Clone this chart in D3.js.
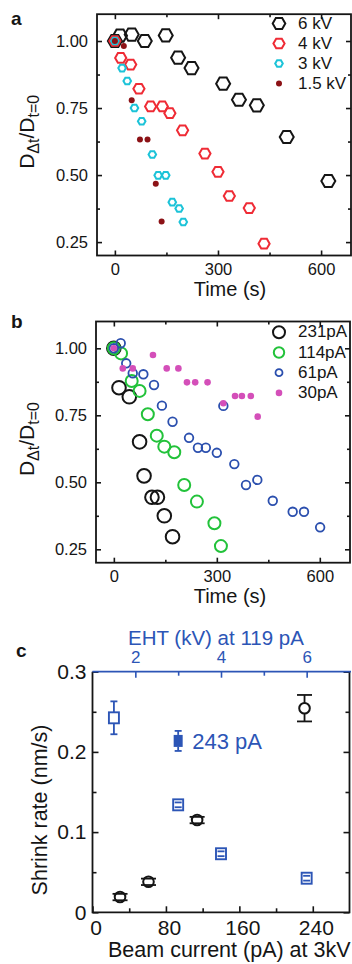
<!DOCTYPE html>
<html>
<head>
<meta charset="utf-8">
<script src="https://cdn.jsdelivr.net/npm/d3@7"></script>
<style>
  body { margin: 0; background: #fff; }
  svg { display: block; }
</style>
</head>
<body>
<script>
// ---- panel a: D ratio vs time, one series per EHT ----
const a6kvT = [0, 15, 49, 87, 148, 184, 223, 315, 361, 413, 500, 621];
const a6kvD = [1.00, 1.02, 1.024, 1.00, 1.021, 0.938, 0.899, 0.841, 0.781, 0.760, 0.642, 0.478];
const a4kvT = [0, 17, 46, 70, 104, 138, 160, 197, 262, 300, 333, 391, 434];
const a4kvD = [1.00, 0.937, 0.912, 0.822, 0.756, 0.756, 0.731, 0.667, 0.580, 0.512, 0.422, 0.377, 0.244];
const a3kvT = [0, 21, 36, 57, 78, 109, 126, 148, 167, 187, 199];
const a3kvD = [1.00, 0.899, 0.851, 0.750, 0.701, 0.577, 0.499, 0.499, 0.399, 0.375, 0.325];
const a15kvT = [0, 26, 49, 73, 95, 119, 136];
const a15kvD = [1.00, 0.981, 0.779, 0.633, 0.633, 0.468, 0.327];
const aLegend = ['6 kV', '4 kV', '3 kV', '1.5 kV'];

// ---- panel b: D ratio vs time, one series per beam current ----
const b231T = [0, 15, 45, 75, 88, 111, 127, 147, 171];
const b231D = [1.00, 0.853, 0.819, 0.651, 0.524, 0.444, 0.444, 0.375, 0.297];
const b114T = [0, 21, 52, 75, 99, 125, 147, 176, 205, 242, 293, 312];
const b114D = [1.00, 0.981, 0.878, 0.841, 0.754, 0.674, 0.633, 0.612, 0.490, 0.428, 0.347, 0.262];
const b61T = [0, 20, 36, 55, 86, 117, 140, 171, 219, 245, 268, 300, 319, 351, 385, 418, 463, 521, 554, 601];
const b61D = [1.00, 1.019, 0.944, 0.907, 0.903, 0.863, 0.786, 0.726, 0.666, 0.629, 0.629, 0.610, 0.785, 0.568, 0.490, 0.509, 0.431, 0.390, 0.390, 0.332];
const b30T = [0, 26, 55, 114, 154, 188, 213, 237, 273, 319, 353, 373, 399, 419];
const b30D = [1.00, 0.925, 0.925, 0.975, 0.925, 0.925, 0.873, 0.873, 0.873, 0.795, 0.822, 0.822, 0.822, 0.745];
const bLegend = ['231pA', '114pA', '61pA', '30pA'];

// ---- panel c: shrink rate ----
const ehtKV = [1.5, 3, 4, 6];
const ehtRate = [0.2425, 0.134, 0.073, 0.0425];
const ehtErr = [0.0205, 0.003, 0.003, 0.003];
const hiKV = [3];
const hiRate = [0.2137];
const hiErr = [0.0125];
const beamPA = [30, 61, 114, 231];
const beamRate = [0.019, 0.038, 0.115, 0.2545];
const beamErr = [0.004, 0.004, 0.004, 0.0165];

const zip = (xs, ys) => xs.map((v, i) => [v, ys[i]]);

const svg = d3.select('body').append('svg')
  .attr('width', 352).attr('height', 964)
  .style('font-family', '"Liberation Sans", Arial, sans-serif');

const BLACK = '#151515', RED = '#ef2b35', CYAN = '#1cc3d8', DARKRED = '#8c1216',
  GREEN = '#22c23a', BLUE = '#2b4fae', PINK = '#d44fb9', CBLUE = '#2c55b6';

function hexPath(r) {
  const pts = d3.range(6).map(i => [r * Math.cos(i * Math.PI / 3), r * Math.sin(i * Math.PI / 3)]);
  return d3.line().curve(d3.curveLinearClosed)(pts);
}

// inward ticks, optional labels
function ticks(axis, tr, vals, size, fmt, pad, fs, color) {
  const g = svg.append('g').attr('transform', tr)
    .call(axis.tickValues(vals).tickSizeInner(-size).tickSizeOuter(0)
      .tickPadding(pad || 0).tickFormat(fmt || (() => '')));
  g.select('.domain').remove();
  g.attr('font-family', null).attr('font-size', fs || null);
  g.selectAll('line').attr('stroke', color || BLACK).attr('stroke-width', 1.6);
  g.selectAll('text').attr('fill', color || BLACK);
  return g;
}

function box(x, y) {
  const [xl, xr] = x.range(), [yb, yt] = y.range();
  svg.append('rect').attr('x', xl).attr('y', yt).attr('width', xr - xl).attr('height', yb - yt)
    .attr('fill', 'none').attr('stroke', BLACK).attr('stroke-width', 1.8);
}

function timeFrame(x, y) {
  const [xl, xr] = x.range(), [yb, yt] = y.range();
  const f2 = d3.format('.2f');
  ticks(d3.axisBottom(x), `translate(0,${yb})`, [0, 300, 600], 5, d3.format('d'), 8, 16.5);
  ticks(d3.axisBottom(x), `translate(0,${yb})`, [150, 450], 3);
  ticks(d3.axisTop(x), `translate(0,${yt})`, [0, 300, 600], 5);
  ticks(d3.axisTop(x), `translate(0,${yt})`, [150, 450], 3);
  ticks(d3.axisLeft(y), `translate(${xl},0)`, [0.25, 0.5, 0.75, 1.0], 5, f2, 9, 16.5);
  ticks(d3.axisLeft(y), `translate(${xl},0)`, [0.375, 0.625, 0.875], 3);
  ticks(d3.axisRight(y), `translate(${xr},0)`, [0.25, 0.5, 0.75, 1.0], 5);
  ticks(d3.axisRight(y), `translate(${xr},0)`, [0.375, 0.625, 0.875], 3);
  box(x, y);
  svg.append('text').attr('x', 230).attr('y', yb + 40).attr('text-anchor', 'middle')
    .attr('font-size', 20).attr('fill', BLACK).text('Time (s)');
  const t = svg.append('text')
    .attr('transform', `translate(34,${(yb + yt) / 2 - 3}) rotate(-90)`)
    .attr('text-anchor', 'middle').attr('font-size', 21).attr('fill', BLACK);
  t.append('tspan').text('D');
  t.append('tspan').attr('font-size', 16).attr('dy', 5).text('\u0394t');
  t.append('tspan').attr('dy', -5).text('/D');
  t.append('tspan').attr('font-size', 16).attr('dy', 5).text('t=0');
}

function panelLabel(txt, x, y) {
  svg.append('text').attr('x', x).attr('y', y).attr('font-size', 19).attr('font-weight', 'bold')
    .attr('fill', BLACK).text(txt);
}

// ================= panel a =================
const xA = d3.scaleLinear().domain([-52, 687]).range([97, 351]);
const yA = d3.scaleLinear().domain([0.2, 1.1]).range([255.5, 14.2]);
timeFrame(xA, yA);
panelLabel('a', 11, 25);

const aSeries = [
  {pts: zip(a6kvT, a6kvD), shape: 'hex', r: 7, color: BLACK},
  {pts: zip(a4kvT, a4kvD), shape: 'hex', r: 5.6, color: RED},
  {pts: zip(a3kvT, a3kvD), shape: 'hex', r: 3.8, color: CYAN},
  {pts: zip(a15kvT, a15kvD), shape: 'dot', r: 3, color: DARKRED}
];

function mark(sel, s) {
  if (s.shape === 'hex') {
    sel.append('path').attr('d', hexPath(s.r)).attr('fill', 'none')
      .attr('stroke', s.color).attr('stroke-width', 2);
  } else if (s.shape === 'circle') {
    sel.append('circle').attr('r', s.r).attr('fill', 'none')
      .attr('stroke', s.color).attr('stroke-width', s.sw || 2);
  } else {
    sel.append('circle').attr('r', s.r).attr('fill', s.color);
  }
}

function drawSeries(series, x, y) {
  series.forEach(s => {
    svg.append('g').selectAll('g').data(s.pts).enter().append('g')
      .attr('transform', d => `translate(${x(d[0])},${y(d[1])})`)
      .each(function () { mark(d3.select(this), s); });
  });
}

function legend(series, labels, lx, ly, step) {
  series.forEach((s, i) => {
    const g = svg.append('g').attr('transform', `translate(${lx},${ly + i * step})`);
    mark(g, s);
    svg.append('text').attr('x', lx + 19).attr('y', ly + i * step + 5)
      .attr('font-size', 17).attr('fill', BLACK).text(labels[i]);
  });
}

drawSeries(aSeries, xA, yA);
legend(aSeries.map((s, i) => i === 0 ? Object.assign({}, s, {r: 6.3}) : s), aLegend, 279, 23.5, 20);

// ================= panel b =================
const xB = d3.scaleLinear().domain([-52, 688]).range([96, 350]);
const yB = d3.scaleLinear().domain([0.2, 1.1]).range([562.7, 321.5]);
timeFrame(xB, yB);
panelLabel('b', 11, 328);

const bSeries = [
  {pts: zip(b231T, b231D), shape: 'circle', r: 6.8, color: BLACK},
  {pts: zip(b114T, b114D), shape: 'circle', r: 6, color: GREEN},
  {pts: zip(b61T, b61D), shape: 'circle', r: 4.3, color: BLUE, sw: 1.8},
  {pts: zip(b30T, b30D), shape: 'dot', r: 3.3, color: PINK}
];
drawSeries(bSeries, xB, yB);
legend(bSeries.map(s => s.shape === 'dot' ? s : Object.assign({}, s, {r: s.r - 0.8})), bLegend, 279, 332.3, 20.2);

// ================= panel c =================
const xC = d3.scaleLinear().domain([0, 280]).range([92.5, 349.5]);
const xTop = d3.scaleLinear().domain([1, 7]).range([92.5, 349.5]);
const yC = d3.scaleLinear().domain([0, 0.3]).range([912.3, 671.7]);
panelLabel('c', 16, 657);

ticks(d3.axisBottom(xC), 'translate(0,912.3)', [0, 80, 160, 240], 6, d3.format('d'), 8, 21)
  .selectAll('text').attr('dx', 3);
ticks(d3.axisBottom(xC), 'translate(0,912.3)', [40, 120, 200], 4);
ticks(d3.axisLeft(yC), 'translate(92.5,0)', [0, 0.1, 0.2, 0.3], 6, d3.format(''), 6, 21);
ticks(d3.axisLeft(yC), 'translate(92.5,0)', [0.05, 0.15, 0.25], 4);
ticks(d3.axisRight(yC), 'translate(349.5,0)', [0, 0.1, 0.2, 0.3], 6);
ticks(d3.axisRight(yC), 'translate(349.5,0)', [0.05, 0.15, 0.25], 4);
svg.append('path').attr('d', 'M92.5,671.7V912.3H349.5V671.7')
  .attr('fill', 'none').attr('stroke', BLACK).attr('stroke-width', 1.8);
ticks(d3.axisTop(xTop), 'translate(0,671.7)', [2, 4, 6], 6, d3.format('d'), 9, 17, CBLUE);
ticks(d3.axisTop(xTop), 'translate(0,671.7)', [3, 5], 4, null, 0, null, CBLUE);
svg.append('line').attr('x1', 92.5).attr('x2', 351).attr('y1', 671.7).attr('y2', 671.7)
  .attr('stroke', CBLUE).attr('stroke-width', 1.8);

svg.append('text').attr('x', 128).attr('y', 645).attr('font-size', 20.5).attr('fill', CBLUE)
  .text('EHT (kV) at 119 pA');
svg.append('text').attr('x', 108).attr('y', 957).attr('font-size', 21.5).attr('fill', BLACK)
  .text('Beam current (pA) at 3kV');
svg.append('text').attr('transform', 'translate(47,810) rotate(-90)').attr('text-anchor', 'middle')
  .attr('font-size', 21.5).attr('fill', BLACK).text('Shrink rate (nm/s)');

// error bar drawn outside the marker, caps always
function errBar(g, cx, cy, top, bot, half, capW, color) {
  if (top < cy - half) g.append('line').attr('x1', cx).attr('x2', cx).attr('y1', top).attr('y2', cy - half);
  if (bot > cy + half) g.append('line').attr('x1', cx).attr('x2', cx).attr('y1', cy + half).attr('y2', bot);
  [top, bot].forEach(v => g.append('line').attr('x1', cx - capW / 2).attr('x2', cx + capW / 2)
    .attr('y1', v).attr('y2', v));
  g.attr('stroke', color).attr('stroke-width', 1.8);
}

ehtKV.forEach((k, i) => {
  const cx = xTop(k), cy = yC(ehtRate[i]);
  svg.append('rect').attr('x', cx - 5).attr('y', cy - 5.5).attr('width', 10).attr('height', 11)
    .attr('fill', '#fff').attr('stroke', CBLUE).attr('stroke-width', 1.9);
  errBar(svg.append('g'), cx, cy, yC(ehtRate[i] + ehtErr[i]), yC(ehtRate[i] - ehtErr[i]), 5.5, 7, CBLUE);
});
hiKV.forEach((k, i) => {
  const cx = xTop(k), cy = yC(hiRate[i]);
  svg.append('rect').attr('x', cx - 4.5).attr('y', cy - 6).attr('width', 9).attr('height', 12)
    .attr('fill', CBLUE);
  errBar(svg.append('g'), cx, cy, yC(hiRate[i] + hiErr[i]), yC(hiRate[i] - hiErr[i]), 6, 7, CBLUE);
  svg.append('text').attr('x', cx + 14).attr('y', cy + 8).attr('font-size', 22).attr('fill', CBLUE)
    .text('243 pA');
});
beamPA.forEach((p, i) => {
  const cx = xC(p), cy = yC(beamRate[i]);
  svg.append('circle').attr('cx', cx).attr('cy', cy).attr('r', 5.3)
    .attr('fill', '#fff').attr('stroke', BLACK).attr('stroke-width', 2);
  errBar(svg.append('g'), cx, cy, yC(beamRate[i] + beamErr[i]), yC(beamRate[i] - beamErr[i]), 5.3, 15, BLACK);
});
</script>
</body>
</html>
